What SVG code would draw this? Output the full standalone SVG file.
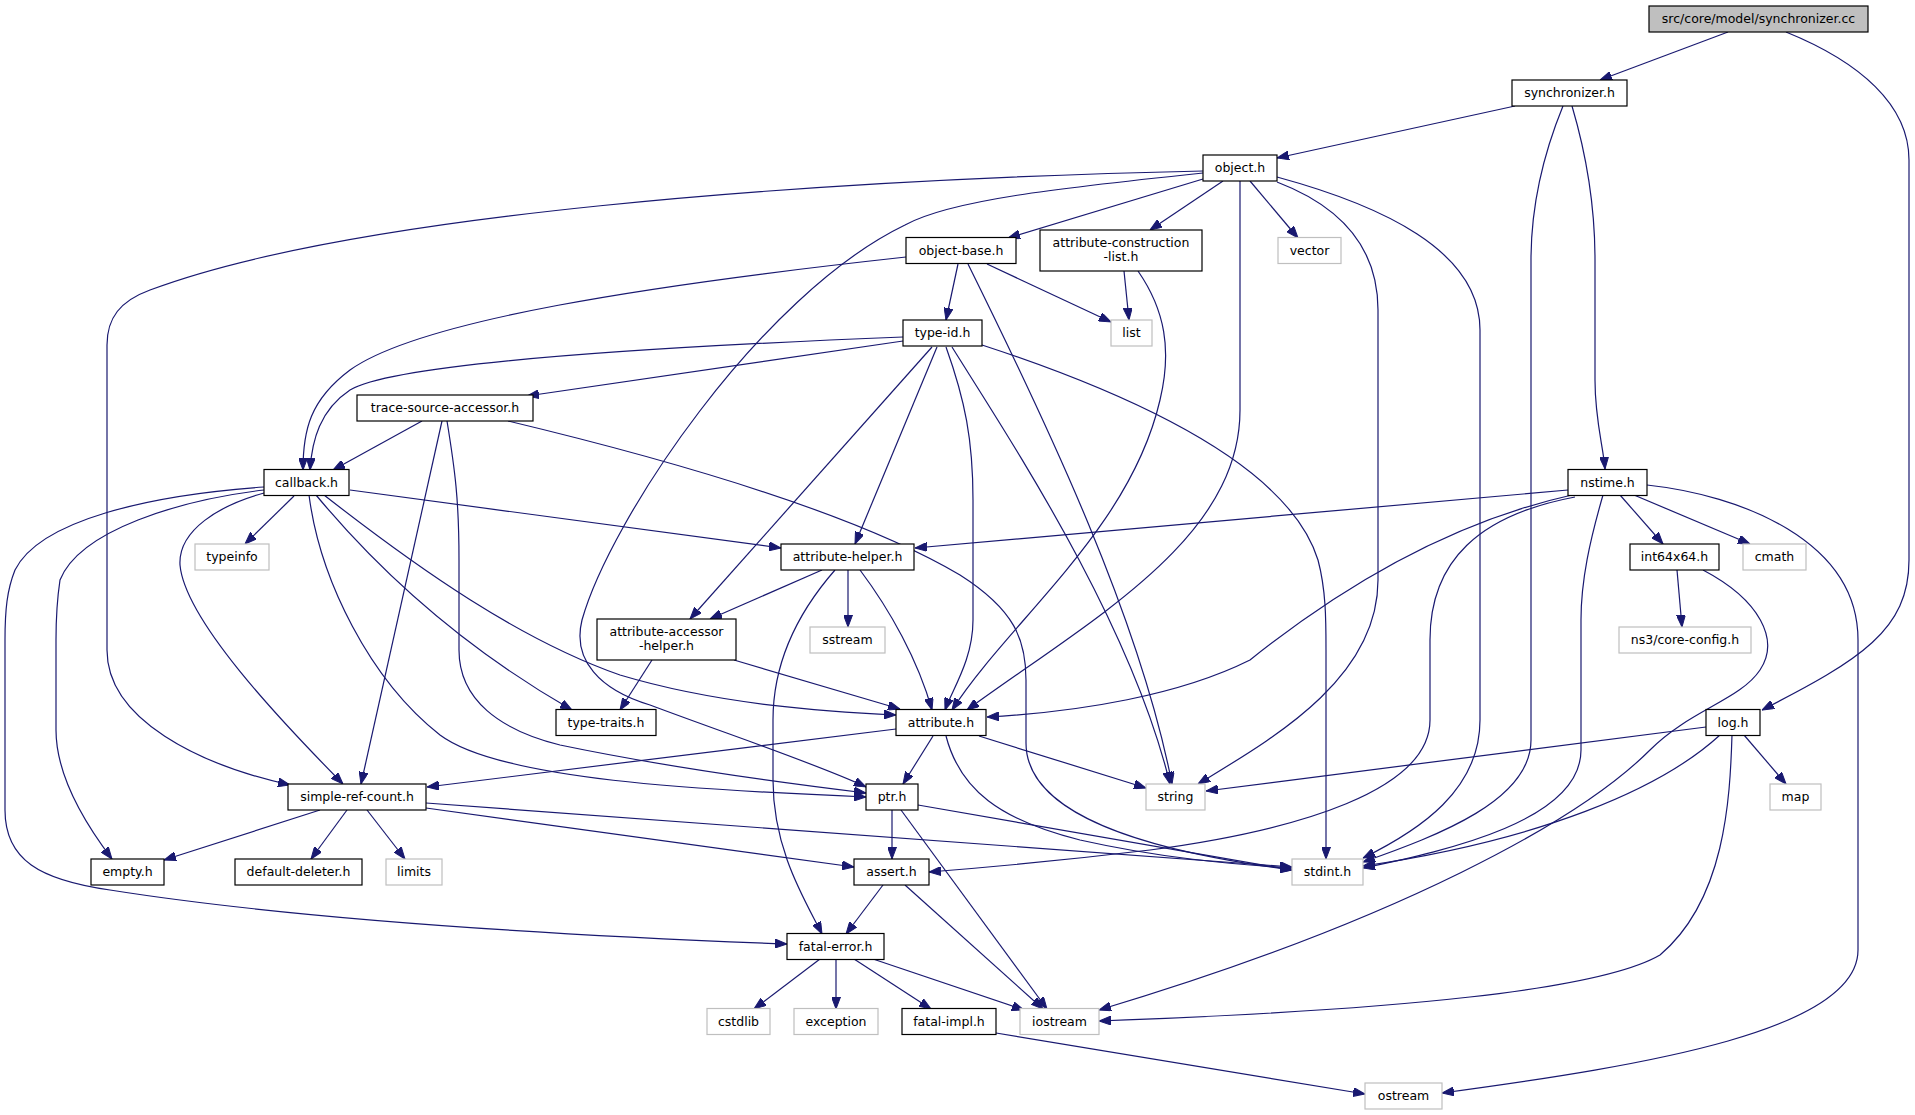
<svg xmlns="http://www.w3.org/2000/svg" width="1915" height="1115" viewBox="0 0 1915 1115">
<style>
.e path{fill:none;stroke:#191970;stroke-width:1.2;marker-end:url(#arr)}
rect.k{fill:#fff;stroke:#000;stroke-width:1.2}
rect.g{fill:#fff;stroke:#bfbfbf;stroke-width:1.2}
rect.r{fill:#bfbfbf;stroke:#000;stroke-width:1.2}
text{font-family:"DejaVu Sans",sans-serif;font-size:12.5px;text-anchor:middle;fill:#000}
</style>
<defs>
<marker id="arr" markerUnits="userSpaceOnUse" markerWidth="12" markerHeight="9" refX="12" refY="4.5" orient="auto">
<path d="M0,0 L12,4.5 L0,9 Z" fill="#191970" stroke="#191970" stroke-width="1"/>
</marker>
</defs>
<rect width="1915" height="1115" fill="#fff"/>
<g class="e" id="edges">
<path d="M1728,32 L1600,80"/>
<path d="M1786,32 C1860,62 1909,105 1909,160 L1909,560 C1909,630 1860,660 1762,710"/>
<path d="M1515,106 L1277,158"/>
<path d="M1563,106 C1545,150 1531,200 1531,260 L1531,740 C1531,800 1440,835 1363,862"/>
<path d="M1572,106 C1585,150 1595,200 1595,260 L1595,380 C1595,420 1603,445 1605,469"/>
<path d="M1203,171 C800,180 350,215 150,290 C120,301 107,318 107,345 L107,650 C107,720 200,765 290,785"/>
<path d="M1203,173 C1060,188 950,200 905,225 C760,295 610,520 582,620 C572,660 600,690 650,705 C730,735 820,765 866,787"/>
<path d="M1203,179 L1008,238"/>
<path d="M1223,181 L1150,230"/>
<path d="M1250,181 L1298,238"/>
<path d="M1240,181 L1240,410 C1240,540 1090,620 967,710"/>
<path d="M1277,182 C1345,208 1378,250 1378,310 L1378,580 C1378,680 1270,740 1198,784"/>
<path d="M1277,177 C1380,205 1480,250 1480,330 L1480,720 C1480,790 1420,830 1363,858"/>
<path d="M906,257 C650,285 420,320 350,370 C310,400 303,430 303,470"/>
<path d="M958,264 L946,320"/>
<path d="M987,264 L1111,322"/>
<path d="M968,264 C1050,430 1140,620 1172,784"/>
<path d="M1124,271 L1129,320"/>
<path d="M1138,271 C1165,310 1172,350 1160,400 C1130,530 1010,620 952,710"/>
<path d="M903,337 C700,345 400,360 350,390 C320,410 312,440 310,470"/>
<path d="M903,341 L527,396"/>
<path d="M932,347 L690,619"/>
<path d="M937,347 L855,544"/>
<path d="M946,347 C965,400 973,440 973,500 L973,620 C973,660 952,690 945,710"/>
<path d="M952,347 C1010,440 1130,620 1170,784"/>
<path d="M982,345 C1150,400 1290,470 1318,560 C1326,590 1326,620 1326,650 L1326,859"/>
<path d="M422,421 L333,470"/>
<path d="M442,421 L361,784"/>
<path d="M447,421 C455,470 459,500 459,560 L459,650 C459,700 500,730 560,745 C680,770 800,785 866,793"/>
<path d="M508,421 C650,455 850,510 960,575 C1015,610 1026,640 1026,680 L1026,743 C1026,800 1100,845 1292,870"/>
<path d="M294,496 L245,544"/>
<path d="M350,490 L781,548"/>
<path d="M264,493 C220,505 178,530 180,565 C185,620 280,720 343,784"/>
<path d="M309,495 C320,580 370,680 440,735 C500,780 700,790 866,797"/>
<path d="M316,495 C370,560 450,640 572,710"/>
<path d="M324,495 C420,570 520,640 620,675 C720,705 830,712 896,715"/>
<path d="M264,490 C180,500 80,530 60,580 C57,600 56,620 56,640 L56,730 C56,780 90,830 112,859"/>
<path d="M264,487 C150,495 40,520 15,570 C7,590 5,610 5,640 L5,810 C5,860 40,880 110,890 C300,920 550,935 787,944"/>
<path d="M1568,490 L915,548"/>
<path d="M1572,495 C1460,520 1350,580 1250,660 C1180,695 1080,712 987,717"/>
<path d="M1575,497 C1480,515 1430,560 1430,640 L1430,720 C1430,790 1300,830 1150,850 C1050,862 980,868 929,872"/>
<path d="M1603,495 C1590,540 1581,580 1581,620 L1581,750 C1581,820 1450,850 1363,868"/>
<path d="M1620,495 L1663,544"/>
<path d="M1634,495 L1750,544"/>
<path d="M1647,485 C1740,495 1858,540 1858,640 L1858,950 C1858,1030 1650,1065 1442,1093"/>
<path d="M822,570 L710,619"/>
<path d="M848,570 L848,627"/>
<path d="M860,570 C890,610 918,660 932,710"/>
<path d="M835,570 C800,610 773,660 773,720 L773,780 C773,850 805,900 822,934"/>
<path d="M652,660 L620,710"/>
<path d="M734,660 L900,709"/>
<path d="M1677,570 L1682,627"/>
<path d="M1703,570 C1760,600 1780,640 1760,670 C1740,700 1690,710 1650,750 C1580,820 1400,920 1099,1010"/>
<path d="M896,729 L427,787"/>
<path d="M933,736 L903,784"/>
<path d="M979,736 L1146,788"/>
<path d="M946,736 C960,790 1000,820 1080,840 C1160,858 1230,864 1292,868"/>
<path d="M1706,727 L1206,791"/>
<path d="M1744,735 L1786,784"/>
<path d="M1720,735 C1660,790 1540,840 1363,866"/>
<path d="M1732,735 C1730,800 1725,900 1660,955 C1600,990 1400,1010 1099,1021"/>
<path d="M320,810 L164,860"/>
<path d="M347,810 L311,859"/>
<path d="M367,810 L405,859"/>
<path d="M426,808 L854,867"/>
<path d="M426,803 L1292,867"/>
<path d="M892,810 L892,859"/>
<path d="M901,810 L1047,1009"/>
<path d="M918,805 L1292,870"/>
<path d="M883,885 L846,934"/>
<path d="M905,885 L1043,1009"/>
<path d="M820,959 L754,1009"/>
<path d="M836,959 L836,1009"/>
<path d="M854,959 L931,1009"/>
<path d="M873,959 L1024,1010"/>
<path d="M996,1033 L1365,1094"/>
</g>
<g id="n-synchronizer-cc"><rect class="r" x="1649" y="6" width="219" height="26"/><text x="1758.5" y="23.3">src/core/model/synchronizer.cc</text></g>
<g id="n-synchronizer-h"><rect class="k" x="1512" y="80" width="115" height="26"/><text x="1569.5" y="97.3">synchronizer.h</text></g>
<g id="n-object"><rect class="k" x="1203" y="155" width="74" height="26"/><text x="1240" y="172.3">object.h</text></g>
<g id="n-object-base"><rect class="k" x="906" y="237.5" width="110" height="26"/><text x="961" y="254.8">object-base.h</text></g>
<g id="n-attribute-construction-list"><rect class="k" x="1040" y="230" width="162" height="41"/><text x="1121" y="247">attribute-construction</text><text x="1121" y="261">-list.h</text></g>
<g id="n-vector"><rect class="g" x="1278" y="237.5" width="63" height="26"/><text x="1309.5" y="254.8">vector</text></g>
<g id="n-list"><rect class="g" x="1111" y="320" width="41" height="26"/><text x="1131.5" y="337.3">list</text></g>
<g id="n-type-id"><rect class="k" x="903" y="320" width="79" height="26"/><text x="942.5" y="337.3">type-id.h</text></g>
<g id="n-trace-source-accessor"><rect class="k" x="357" y="395" width="176" height="26"/><text x="445" y="412.3">trace-source-accessor.h</text></g>
<g id="n-callback"><rect class="k" x="264" y="469.5" width="85" height="26"/><text x="306.5" y="486.8">callback.h</text></g>
<g id="n-nstime"><rect class="k" x="1568" y="469.5" width="79" height="26"/><text x="1607.5" y="486.8">nstime.h</text></g>
<g id="n-typeinfo"><rect class="g" x="195" y="544" width="74" height="26"/><text x="232" y="561.3">typeinfo</text></g>
<g id="n-attribute-helper"><rect class="k" x="781" y="544" width="133" height="26"/><text x="847.5" y="561.3">attribute-helper.h</text></g>
<g id="n-int64x64"><rect class="k" x="1630" y="544" width="89" height="26"/><text x="1674.5" y="561.3">int64x64.h</text></g>
<g id="n-cmath"><rect class="g" x="1743" y="544" width="63" height="26"/><text x="1774.5" y="561.3">cmath</text></g>
<g id="n-attribute-accessor-helper"><rect class="k" x="597" y="619" width="139" height="41"/><text x="666.5" y="636">attribute-accessor</text><text x="666.5" y="650">-helper.h</text></g>
<g id="n-sstream"><rect class="g" x="810" y="627" width="75" height="26"/><text x="847.5" y="644.3">sstream</text></g>
<g id="n-core-config"><rect class="g" x="1619" y="627" width="132" height="26"/><text x="1685" y="644.3">ns3/core-config.h</text></g>
<g id="n-type-traits"><rect class="k" x="556" y="709.5" width="100" height="26"/><text x="606" y="726.8">type-traits.h</text></g>
<g id="n-attribute"><rect class="k" x="896" y="709.5" width="90" height="26"/><text x="941" y="726.8">attribute.h</text></g>
<g id="n-log"><rect class="k" x="1706" y="709.5" width="54" height="26"/><text x="1733" y="726.8">log.h</text></g>
<g id="n-simple-ref-count"><rect class="k" x="288" y="784" width="138" height="26"/><text x="357" y="801.3">simple-ref-count.h</text></g>
<g id="n-ptr"><rect class="k" x="866" y="784" width="52" height="26"/><text x="892" y="801.3">ptr.h</text></g>
<g id="n-string"><rect class="g" x="1146" y="784" width="59" height="26"/><text x="1175.5" y="801.3">string</text></g>
<g id="n-map"><rect class="g" x="1770" y="784" width="51" height="26"/><text x="1795.5" y="801.3">map</text></g>
<g id="n-empty"><rect class="k" x="91" y="859" width="73" height="26"/><text x="127.5" y="876.3">empty.h</text></g>
<g id="n-default-deleter"><rect class="k" x="235" y="859" width="127" height="26"/><text x="298.5" y="876.3">default-deleter.h</text></g>
<g id="n-limits"><rect class="g" x="386" y="859" width="56" height="26"/><text x="414" y="876.3">limits</text></g>
<g id="n-assert"><rect class="k" x="854" y="859" width="75" height="26"/><text x="891.5" y="876.3">assert.h</text></g>
<g id="n-stdint"><rect class="g" x="1292" y="859" width="71" height="26"/><text x="1327.5" y="876.3">stdint.h</text></g>
<g id="n-fatal-error"><rect class="k" x="787" y="933.5" width="97" height="26"/><text x="835.5" y="950.8">fatal-error.h</text></g>
<g id="n-cstdlib"><rect class="g" x="707" y="1008.5" width="63" height="26"/><text x="738.5" y="1025.8">cstdlib</text></g>
<g id="n-exception"><rect class="g" x="794" y="1008.5" width="84" height="26"/><text x="836" y="1025.8">exception</text></g>
<g id="n-fatal-impl"><rect class="k" x="902" y="1008.5" width="94" height="26"/><text x="949" y="1025.8">fatal-impl.h</text></g>
<g id="n-iostream"><rect class="g" x="1020" y="1008.5" width="79" height="26"/><text x="1059.5" y="1025.8">iostream</text></g>
<g id="n-ostream"><rect class="g" x="1365" y="1083" width="77" height="26"/><text x="1403.5" y="1100.3">ostream</text></g>
</svg>
